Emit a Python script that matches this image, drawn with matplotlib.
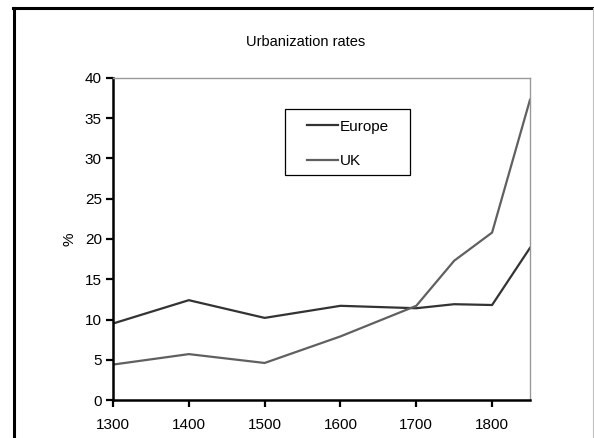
import matplotlib
matplotlib.use("Agg")
import matplotlib.pyplot as plt
from matplotlib.lines import Line2D
from matplotlib.patches import Rectangle

plt.rcParams['font.family'] = ['Liberation Sans', 'DejaVu Sans']

years = [1300, 1400, 1500, 1600, 1700, 1750, 1800, 1850]
europe = [9.5, 12.4, 10.2, 11.7, 11.4, 11.9, 11.8, 18.9]
uk = [4.4, 5.7, 4.6, 7.9, 11.7, 17.3, 20.8, 37.3]
xticks = [1300, 1400, 1500, 1600, 1700, 1800]
yticks = [0, 5, 10, 15, 20, 25, 30, 35, 40]

W, H = 594, 438
fig = plt.figure(figsize=(W / 100, H / 100), dpi=100)
fig.patch.set_facecolor('white')

# outer chart-area border
fig.add_artist(Line2D([14 / W, 14 / W], [0, 1 - 7.5 / H], transform=fig.transFigure,
                      color='black', lw=2.2))
fig.add_artist(Line2D([13 / W, 593 / W], [1 - 7.5 / H, 1 - 7.5 / H], transform=fig.transFigure,
                      color='black', lw=2.2))
fig.add_artist(Line2D([592.5 / W, 592.5 / W], [0, 1 - 7.5 / H], transform=fig.transFigure,
                      color='#c0c0c0', lw=0.8))

AL, AR, AT, AB = 113, 530, 78, 400
ax = fig.add_axes([AL / W, 1 - AB / H, (AR - AL) / W, (AB - AT) / H])
ax.plot(years, europe, color='#333333', lw=1.6, label='Europe')
ax.plot(years, uk, color='#606060', lw=1.6, label='UK')

ax.set_xlim(1300, 1850)
ax.set_ylim(0, 40)
ax.set_xticks(xticks)
ax.set_yticks(yticks)
ax.tick_params(axis='both', labelsize=11, length=5, width=1.6, direction='out', color='black')
ax.tick_params(axis='y', pad=3)
ax.tick_params(axis='x', pad=8)

for s in ['left', 'bottom']:
    ax.spines[s].set_color('black')
    ax.spines[s].set_linewidth(1.8)
for s in ['top', 'right']:
    ax.spines[s].set_color('#999999')
    ax.spines[s].set_linewidth(1.0)

ax.set_ylabel('%', fontsize=11, labelpad=6)

fig.text(306 / W, 1 - 42 / H, 'Urbanization rates', ha='center', va='center', fontsize=10.5)

# legend frame drawn as a rectangle in figure pixel positions
lx0, ly0, lx1, ly1 = 285, 109, 410, 175
fig.add_artist(Rectangle((lx0 / W, 1 - ly1 / H), (lx1 - lx0) / W, (ly1 - ly0) / H,
                         transform=fig.transFigure, facecolor='white', edgecolor='black',
                         lw=0.9, zorder=5))
leg = fig.legend(*ax.get_legend_handles_labels(), loc='upper left',
                 bbox_to_anchor=(307 / W, 1 - 119.5 / H), bbox_transform=fig.transFigure,
                 fontsize=11, frameon=False, handlelength=2.0, handletextpad=0.15,
                 borderpad=0, labelspacing=1.35, borderaxespad=0)
leg.set_zorder(6)

fig.savefig('out.png', dpi=100, facecolor='white')
